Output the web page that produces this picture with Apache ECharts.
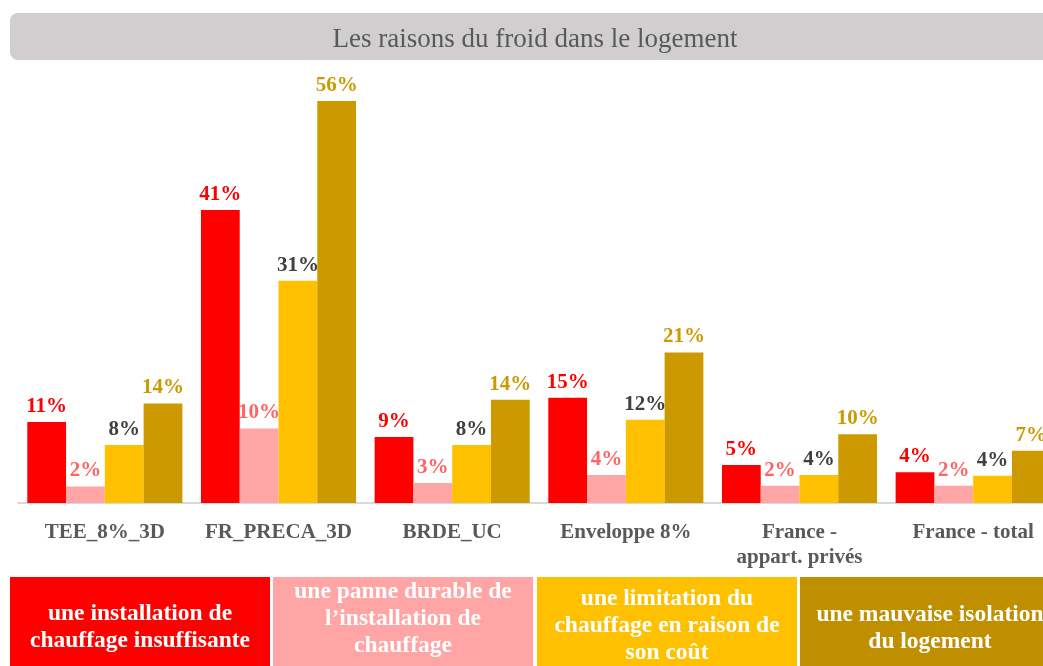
<!DOCTYPE html>
<html>
<head>
<meta charset="utf-8">
<script src="https://cdn.jsdelivr.net/npm/echarts@6/dist/echarts.min.js"></script>
<style>
  html, body { margin: 0; padding: 0; background: #fff; overflow: hidden; }
  /* the chart runs past the right edge of the window, like the reference */
  #chart { width: 1062px; height: 666px; }
</style>
</head>
<body>
<div id="chart"></div>
<script>
// categories and values (percent)
var categories = ['TEE_8%_3D', 'FR_PRECA_3D', 'BRDE_UC', 'Enveloppe 8%', 'France -\nappart. privés', 'France - total'];
var seriesNames = [
  'une installation de\nchauffage insuffisante',
  'une panne durable de\nl\u2019installation de\nchauffage',
  'une limitation du\nchauffage en raison de\nson co\u00fbt',
  'une mauvaise isolation\ndu logement'
];
var installation = [11.3, 40.9, 9.2, 14.7, 5.3, 4.3];
var panne = [2.3, 10.4, 2.8, 3.9, 2.4, 2.4];
var limitation = [8.1, 31.0, 8.1, 11.6, 3.9, 3.8];
var isolation = [13.9, 56.1, 14.4, 21.0, 9.6, 7.3];

var barColors = ['#FF0000', '#FFA5A5', '#FFC000', '#CC9900'];
var labelColors = ['#FF0000', '#FF6464', '#404040', '#CC9900'];
var legendColors = ['#FF0000', '#FFA5A5', '#FFC000', '#BF8F00'];
var serif = '"Liberation Serif", "DejaVu Serif", serif';

var chart = echarts.init(document.getElementById('chart'));

function makeSeries(idx, data) {
  return {
    name: seriesNames[idx],
    type: 'bar',
    data: data,
    barGap: '0%',
    barCategoryGap: '10.7%',
    itemStyle: { color: barColors[idx] },
    label: {
      show: true,
      position: 'top',
      distance: 5,
      color: labelColors[idx],
      fontFamily: serif,
      fontWeight: 'bold',
      fontSize: 21,
      formatter: function (p) { return Math.round(p.value) + '%'; }
    }
  };
}

// bottom legend blocks
var legendBoxes = [
  { x: 10, w: 260, cy: 627 },
  { x: 273, w: 260, cy: 619 },
  { x: 537, w: 260, cy: 626 },
  { x: 800, w: 260, cy: 628 }
];
var graphics = [
  {
    type: 'rect',
    shape: { x: 10, y: 13, width: 1045, height: 47, r: 8 },
    style: { fill: '#D0CECE' }
  },
  {
    type: 'text',
    x: 535, y: 40,
    style: {
      text: 'Les raisons du froid dans le logement',
      fill: '#595959',
      font: '27px ' + serif,
      textAlign: 'center',
      textVerticalAlign: 'middle'
    }
  }
];
legendBoxes.forEach(function (b, i) {
  graphics.push({
    type: 'rect',
    shape: { x: b.x, y: 577, width: b.w, height: 100 },
    style: { fill: legendColors[i] }
  });
  graphics.push({
    type: 'text',
    x: b.x + b.w / 2, y: b.cy,
    style: {
      text: seriesNames[i],
      fill: '#FFFFFF',
      font: 'bold 23.5px ' + serif,
      lineHeight: 27,
      textAlign: 'center',
      textVerticalAlign: 'middle'
    }
  });
});

chart.setOption({
  animation: false,
  grid: { left: 18, top: 73, width: 1042, height: 430, containLabel: false },
  xAxis: {
    type: 'category',
    data: categories,
    axisLine: { lineStyle: { color: '#D9D9D9', width: 2 } },
    axisTick: { show: false },
    axisLabel: {
      interval: 0,
      margin: 17,
      color: '#595959',
      fontFamily: serif,
      fontWeight: 'bold',
      fontSize: 21,
      lineHeight: 25
    }
  },
  yAxis: {
    type: 'value',
    min: 0,
    max: 60,
    show: false,
    splitLine: { show: false }
  },
  series: [
    makeSeries(0, installation),
    makeSeries(1, panne),
    makeSeries(2, limitation),
    makeSeries(3, isolation)
  ],
  graphic: graphics
});
</script>
</body>
</html>
